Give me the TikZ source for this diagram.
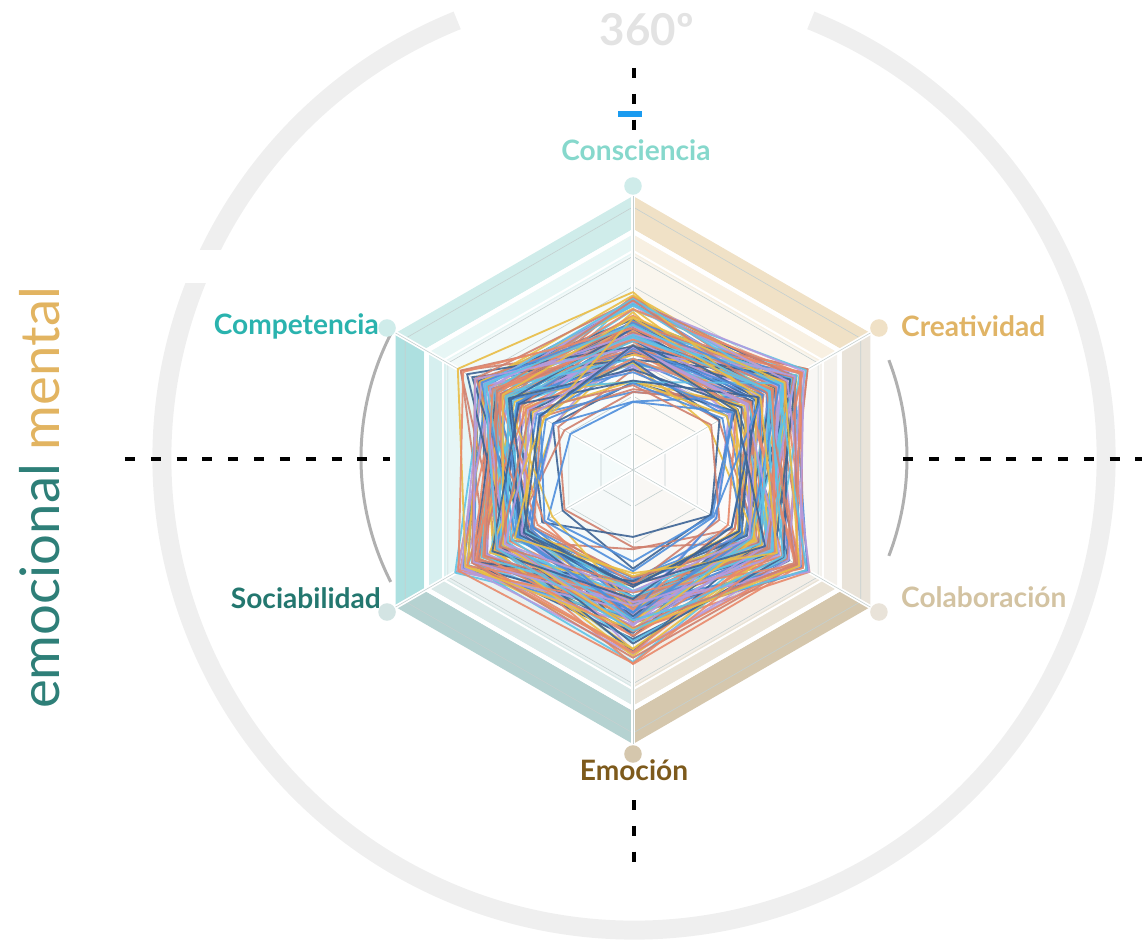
\documentclass[tikz,border=0pt]{standalone}
\usepackage{fontspec}
\setmainfont{Lato}

\definecolor{ringgray}{HTML}{EFEFEF}
\definecolor{arcgray}{HTML}{B0B0B0}
\definecolor{tickblue}{HTML}{1A9BF0}
\definecolor{meshgray}{HTML}{C5D0D0}
\definecolor{wedA}{HTML}{CFECEA}
\definecolor{wedB}{HTML}{F0E1C6}
\definecolor{wedC}{HTML}{E9E3D9}
\definecolor{wedD}{HTML}{D5C7AD}
\definecolor{wedE}{HTML}{B5D2D1}
\definecolor{wedF}{HTML}{ADE0E0}
\definecolor{lnA}{HTML}{4F8FDC}
\definecolor{lnB}{HTML}{E8896A}
\definecolor{lnC}{HTML}{E9BD45}
\definecolor{lnD}{HTML}{B49BE0}
\definecolor{lnE}{HTML}{5EC3E6}
\definecolor{lnF}{HTML}{3D6495}
\definecolor{lnG}{HTML}{D0806E}
\definecolor{txConsc}{HTML}{86D8CC}
\definecolor{txCompet}{HTML}{2AB3AE}
\definecolor{txCreat}{HTML}{E0B466}
\definecolor{txColab}{HTML}{D3C3A2}
\definecolor{txSocia}{HTML}{23776F}
\definecolor{txEmoc}{HTML}{7D5A1C}
\definecolor{txDeg}{HTML}{E3E3E3}
\definecolor{sideteal}{HTML}{2E7F78}
\definecolor{sidetan}{HTML}{E2B461}

\begin{document}
\begin{tikzpicture}[x=0.02cm,y=0.02cm,
    bigring/.style={draw=ringgray,line width=10.8pt},
    innerarc/.style={draw=arcgray,line width=1.7pt},
    dashline/.style={line width=2.8pt,dash pattern=on 5.7pt off 9pt},
    spoke/.style={draw=white,line width=2.3pt},
    meshline/.style={draw=meshgray,line width=0.35pt},
    dataline/.style={line width=1.05pt,opacity=0.9,line join=round},
    vdot/.style={circle,fill=#1,inner sep=0pt,minimum size=10pt},
    axisname/.style={font=\bfseries\fontsize{16}{18}\selectfont}]

    \useasboundingbox (-633,-472) rectangle (509,470);
    \def\R{274}

    \draw[bigring] (1,12) ++(112:472) arc[start angle=112,end angle=428,radius=472];
    \fill[white] (-488,187) rectangle (-233,220);
    \draw[innerarc] (1,12) ++(153:273) arc[start angle=153,end angle=207,radius=273];
    \draw[innerarc] (1,12) ++(-21:273) arc[start angle=-21,end angle=21,radius=273];

    \coordinate (hl1) at (-508,11);
    \coordinate (hl2) at (-243,11);
    \coordinate (hr1) at (270,11);
    \coordinate (hr2) at (509,11);
    \coordinate (vt1) at (1,402);
    \coordinate (vt2) at (1,336);
    \coordinate (vb1) at (1,-330);
    \coordinate (vb2) at (1,-395);
    \coordinate (bt1) at (-15,356);
    \coordinate (bt2) at (9,356);
    \draw[dashline] (hl1) -- (hl2);
    \draw[dashline] (hr1) -- (hr2);
    \draw[dashline] (vt1) -- (vt2);
    \draw[dashline] (vb1) -- (vb2);
    \draw[tickblue,line width=3pt] (bt1) -- (bt2);

    \foreach \a/\c in {90/wedA,150/wedF,210/wedE,270/wedD,330/wedC,30/wedB}{
        \fill[\c!14] (0,0) -- (\a:{0.86*\R}) -- ({\a+60}:{0.86*\R}) -- cycle;
        \fill[\c!30] (\a:{0.62*\R}) -- (\a:{0.86*\R}) -- ({\a+60}:{0.86*\R}) -- ({\a+60}:{0.62*\R}) -- cycle;
        \fill[\c!50] (\a:{0.79*\R}) -- (\a:{0.86*\R}) -- ({\a+60}:{0.86*\R}) -- ({\a+60}:{0.79*\R}) -- cycle;
        \fill[\c] (\a:{0.88*\R}) -- (\a:\R) -- ({\a+60}:\R) -- ({\a+60}:{0.88*\R}) -- cycle;
    }
    \foreach \f in {0.135,0.27,0.405,0.54,0.67,0.78,0.96}
        \draw[meshline] (30:{\f*\R}) \foreach \a in {90,150,...,330}{ -- (\a:{\f*\R})} -- cycle;
    \foreach \a in {30,90,...,330}
        \draw[spoke] (0,0) -- (\a:\R);
    \draw[white,line width=2.5pt] (30:{0.87*\R}) \foreach \a in {90,150,...,330}{ -- (\a:{0.87*\R})} -- cycle;
    \draw[white,line width=1.2pt] (30:{0.80*\R}) \foreach \a in {90,150,...,330}{ -- (\a:{0.80*\R})} -- cycle;
    \foreach \a in {30,90,...,330}
        \draw[meshline] (0,0) -- (\a:\R);

    \pgfmathsetseed{23}
    \foreach \i in {1,...,110}{
        \pgfmathsetmacro\lvl{0.57-0.24*rnd^2}
        \pgfmathsetmacro\ra{\R*max(0.22,min(0.72,\lvl-0.03+0.24*(rnd-0.5)))}
        \pgfmathsetmacro\rb{\R*max(0.24,min(0.80,\lvl+0.05+0.26*(rnd-0.5)))}
        \pgfmathsetmacro\rc{\R*max(0.24,min(0.80,\lvl+0.05+0.26*(rnd-0.5)))}
        \pgfmathsetmacro\rd{\R*max(0.22,min(0.74,\lvl+0.02+0.24*(rnd-0.5)))}
        \pgfmathsetmacro\re{\R*max(0.24,min(0.80,\lvl+0.06+0.26*(rnd-0.5)))}
        \pgfmathsetmacro\rf{\R*max(0.24,min(0.80,\lvl+0.04+0.26*(rnd-0.5)))}
        \pgfmathtruncatemacro\k{mod(\i,7)}
        \ifcase\k \def\lc{lnA}\or \def\lc{lnB}\or \def\lc{lnC}\or \def\lc{lnD}\or \def\lc{lnE}\or \def\lc{lnF}\or \def\lc{lnG}\fi
        \draw[dataline,draw=\lc] (90:\ra) -- (30:\rb) -- (-30:\rc) -- (-90:\rd) -- (210:\re) -- (150:\rf) -- cycle;
    }

    \node[vdot=wedA] (dConsc) at (90:284) {};
    \node[vdot=wedB] (dCreat) at (30:284) {};
    \node[vdot=wedC] (dColab) at (-30:284) {};
    \node[vdot=wedD] (dEmoc) at (-90:284) {};
    \node[vdot=wedE!60] (dSocia) at (210:284) {};
    \node[vdot=wedA] (dCompet) at (150:284) {};

    \node[axisname,text=txConsc] (consc) at (3,320) {Consciencia};
    \node[axisname,text=txCompet,anchor=east] (compet) at (-248,144) {Competencia};
    \node[axisname,text=txCreat,anchor=west] (creat) at (262,144) {Creatividad};
    \node[axisname,text=txColab,anchor=west] (colab) at (262,-127) {Colaboración};
    \node[axisname,text=txSocia,anchor=east] (socia) at (-246,-128) {Sociabilidad};
    \node[axisname,text=txEmoc] (emoc) at (1,-300) {Emoción};
    \node[font=\bfseries\fontsize{25}{28}\selectfont,text=txDeg] (deg) at (14,440) {360º};
    \node[rotate=90,font=\fontsize{31}{34}\selectfont] (side) at (-593,-28) {\textcolor{sideteal}{emocional} \textcolor{sidetan}{mental}};

\end{tikzpicture}
\end{document}
